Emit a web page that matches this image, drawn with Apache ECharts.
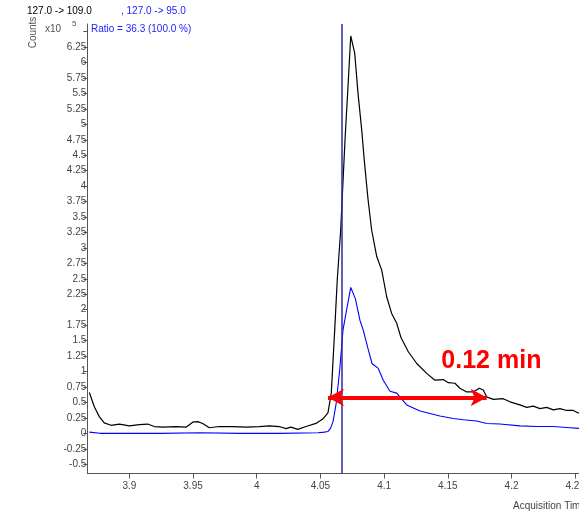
<!DOCTYPE html>
<html>
<head>
<meta charset="utf-8">
<script src="https://cdn.jsdelivr.net/npm/echarts@6/dist/echarts.min.js"></script>
<style>
  html, body { margin: 0; padding: 0; background: #fff; }
  #chart { width: 579px; height: 512px; }
</style>
</head>
<body>
<div id="chart"></div>
<script>
// Transition 127.0 -> 109.0 (quantifier), counts x10^5
const quantTime = [3.8686, 3.8725, 3.8764, 3.8803, 3.8856, 3.8921, 3.9000, 3.9078, 3.9144, 3.9196,
  3.9262, 3.9366, 3.9445, 3.9497, 3.9537, 3.9576, 3.9628, 3.9706, 3.9811, 3.9916,
  4.0020, 4.0099, 4.0177, 4.0230, 4.0269, 4.0322, 4.0387, 4.0465, 4.0518, 4.0559,
  4.0585, 4.0612, 4.0632, 4.0659, 4.0693, 4.0716, 4.0738, 4.0769, 4.0795, 4.0824,
  4.0844, 4.0873, 4.0902, 4.0942, 4.0981, 4.1020, 4.1059, 4.1099, 4.1132, 4.1190,
  4.1256, 4.1334, 4.1399, 4.1464, 4.1504, 4.1556, 4.1595, 4.1648, 4.1700, 4.1747,
  4.1778, 4.1805, 4.1857, 4.1935, 4.1988, 4.2066, 4.2119, 4.2171, 4.2223, 4.2276,
  4.2328, 4.2380, 4.2433, 4.2485, 4.2524, 4.2577];
const quantCounts = [0.66, 0.43, 0.27, 0.17, 0.13, 0.15, 0.12, 0.14, 0.15, 0.11,
  0.10, 0.11, 0.10, 0.18, 0.19, 0.16, 0.09, 0.11, 0.11, 0.10,
  0.11, 0.12, 0.11, 0.075, 0.10, 0.065, 0.11, 0.16, 0.23, 0.33,
  0.65, 1.67, 2.48, 3.29, 4.75, 5.6, 6.43, 6.15, 5.5, 4.91,
  4.42, 3.8, 3.29, 2.86, 2.64, 2.21, 1.94, 1.78, 1.55, 1.32,
  1.13, 0.97, 0.86, 0.87, 0.82, 0.81, 0.73, 0.67, 0.67, 0.73,
  0.70, 0.59, 0.55, 0.56, 0.51, 0.46, 0.42, 0.44, 0.40, 0.42,
  0.38, 0.40, 0.37, 0.37, 0.33, 0.32];

// Transition 127.0 -> 95.0 (qualifier)
const qualTime = [3.8686, 3.8770, 3.9005, 3.9241, 3.9555, 3.9869, 4.0183, 4.0481, 4.0530, 4.0559,
  4.0579, 4.0599, 4.0624, 4.0651, 4.0677, 4.0703, 4.0738, 4.0774, 4.0810, 4.0836,
  4.0876, 4.0905, 4.0954, 4.0993, 4.1046, 4.1099, 4.1177, 4.1282, 4.1360, 4.1438,
  4.1543, 4.1621, 4.1727, 4.1805, 4.1909, 4.2066, 4.2198, 4.2328, 4.2459, 4.2524,
  4.2577];
const qualCounts = [0.02, 0.00, 0.00, 0.00, 0.01, 0.00, 0.00, 0.01, 0.02, 0.03,
  0.08, 0.19, 0.49, 1.02, 1.67, 1.97, 2.36, 2.18, 1.83, 1.67,
  1.35, 1.13, 1.05, 0.86, 0.68, 0.65, 0.46, 0.36, 0.32, 0.28,
  0.24, 0.22, 0.20, 0.16, 0.15, 0.12, 0.11, 0.11, 0.09, 0.08,
  0.08];

// Retention marker and peak-width annotation
const retentionTime = 4.0664;
const widthStart = 4.0559;
const widthEnd = 4.1805;
const widthLevel = 0.58;
const widthLabel = '0.12 min';
const widthLabelAt = [4.1842, 1.175];

// Axis ticks
const xTicks = [3.9, 3.95, 4, 4.05, 4.1, 4.15, 4.2, 4.25];
const yTicks = [-0.5, -0.25, 0, 0.25, 0.5, 0.75, 1, 1.25, 1.5, 1.75, 2, 2.25, 2.5, 2.75,
  3, 3.25, 3.5, 3.75, 4, 4.25, 4.5, 4.75, 5, 5.25, 5.5, 5.75, 6, 6.25, 6.5];
const yLabels = yTicks.filter(v => v !== 6.5);

const FONT = '"Liberation Sans", Arial, sans-serif';
const pairs = (xs, ys) => xs.map((x, i) => [x, ys[i]]);

const chart = echarts.init(document.getElementById('chart'), null, { renderer: 'canvas' });
chart.setOption({
  animation: false,
  backgroundColor: '#ffffff',
  textStyle: { fontFamily: FONT },
  // plot area runs past the right edge of the page
  grid: { left: 87.3, top: 24, width: 513.4, bottom: 38.5, containLabel: false, outerBoundsMode: 'none' },
  xAxis: {
    type: 'value',
    min: 3.867,
    max: 4.27,
    axisLine: { onZero: false, lineStyle: { color: '#555', width: 1 } },
    axisTick: { show: true, length: 5, customValues: xTicks, lineStyle: { color: '#555' } },
    axisLabel: { customValues: xTicks, color: '#444', fontSize: 10, fontFamily: FONT, margin: 8 },
    splitLine: { show: false }
  },
  yAxis: {
    type: 'value',
    min: -0.65,
    max: 6.623,
    axisLine: { show: true, onZero: false, lineStyle: { color: '#555', width: 1 } },
    axisTick: { show: true, length: 4, customValues: yTicks, lineStyle: { color: '#555' } },
    axisLabel: { customValues: yLabels, color: '#444', fontSize: 10, fontFamily: FONT, margin: 1 },
    splitLine: { show: false }
  },
  series: [
    {
      name: '127.0 -> 109.0',
      type: 'line',
      data: pairs(quantTime, quantCounts),
      symbol: 'none',
      lineStyle: { color: '#000000', width: 1.2 },
      z: 3
    },
    {
      name: '127.0 -> 95.0',
      type: 'line',
      data: pairs(qualTime, qualCounts),
      symbol: 'none',
      lineStyle: { color: '#0000ff', width: 1.1 },
      z: 2,
      markLine: {
        silent: true,
        precision: 4,
        symbol: 'none',
        label: { show: false },
        lineStyle: { color: '#2b2ba6', width: 1.5, type: 'solid' },
        data: [{ xAxis: retentionTime }]
      }
    },
    {
      name: 'width',
      type: 'line',
      data: [],
      z: 5,
      markLine: {
        silent: true,
        precision: 4,
        symbol: ['arrow', 'arrow'],
        symbolSize: [13, 16],
        label: { show: false },
        lineStyle: { color: '#ff0000', width: 4, type: 'solid', opacity: 1 },
        data: [[{ coord: [widthStart, widthLevel] }, { coord: [widthEnd, widthLevel] }]]
      },
      markPoint: {
        silent: true,
        symbol: 'circle',
        symbolSize: 0,
        label: {
          show: true,
          position: 'inside',
          formatter: widthLabel,
          color: '#ff0000',
          fontSize: 25,
          fontWeight: 'bold',
          fontFamily: FONT
        },
        data: [{ coord: widthLabelAt }]
      }
    }
  ],
  graphic: [
    { type: 'text', left: 27, top: 6, style: { text: '127.0 -> 109.0', fill: '#000', font: '10px ' + FONT } },
    { type: 'text', left: 121, top: 6, style: { text: ', 127.0 -> 95.0', fill: '#2222ff', font: '10px ' + FONT } },
    { type: 'text', left: 91, top: 24, style: { text: 'Ratio = 36.3 (100.0 %)', fill: '#2222ff', font: '10px ' + FONT } },
    { type: 'text', left: 45, top: 24, style: { text: 'x10', fill: '#555', font: '10px ' + FONT } },
    { type: 'text', left: 72, top: 20, style: { text: '5', fill: '#555', font: '8px ' + FONT } },
    {
      type: 'text', x: 33, y: 32.5, rotation: Math.PI / 2,
      style: { text: 'Counts', fill: '#555', font: '10px ' + FONT, align: 'center', verticalAlign: 'middle' }
    },
    { type: 'text', left: 513, top: 501, style: { text: 'Acquisition Time (min)', fill: '#444', font: '10px ' + FONT } }
  ]
});
</script>
</body>
</html>
